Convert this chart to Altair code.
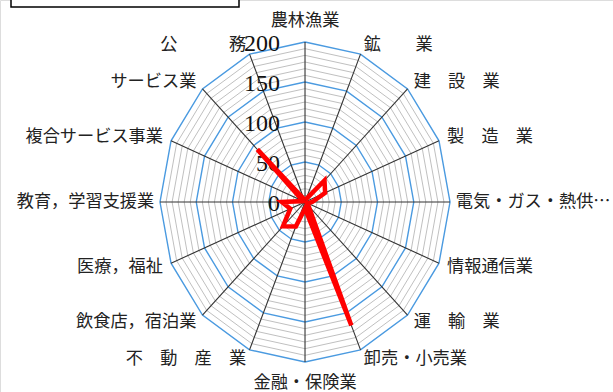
import numpy as np
import pandas as pd
import altair as alt

categories = ["農林漁業", "鉱業", "建設業", "製造業", "電気・ガス・熱供給・水道業",
              "情報通信業", "運輸業", "卸売・小売業", "金融・保険業", "不動産業",
              "飲食店，宿泊業", "医療，福祉", "教育，学習支援業", "複合サービス事業",
              "サービス業", "公務"]
label_texts = ["農林漁業", "鉱　　業", "建　設　業", "製　造　業", "電気・ガス・熱供…",
               "情報通信業", "運　輸　業", "卸売・小売業", "金融・保険業", "不　動　産　業",
               "飲食店，宿泊業", "医療，福祉", "教育，学習支援業", "複合サービス事業",
               "サービス業", "公　　　務"]
values = [3, 4, 38, 30, 10, 4, 7, 167, 8, 33, 43, 22, 32, 3, 93, 4]
tick_values = [0, 50, 100, 150, 200]
tick_labels = ["0", "50", "100", "150", "200"]
r_max = 200
n = len(categories)
ang = np.arange(n) * 2 * np.pi / n

# rings
minor_levels = [k * 50 / 6 for k in range(1, 25) if k % 6 != 0]
major_levels = [50, 100, 150, 200]

def ring_df(levels):
    rows = []
    for lv in levels:
        for j in range(n + 1):
            a = ang[j % n]
            rows.append({"ring": lv, "o": j, "x": lv * np.sin(a), "y": lv * np.cos(a)})
    return pd.DataFrame(rows)

minor_df = ring_df(minor_levels)
major_df = ring_df(major_levels)

spoke_df = pd.DataFrame({"x": 0.0, "y": 0.0,
                         "x2": r_max * np.sin(ang), "y2": r_max * np.cos(ang)})

data_rows = []
for j in range(n + 1):
    a = ang[j % n]
    v = values[j % n]
    data_rows.append({"o": j, "cat": categories[j % n], "v": v,
                      "x": v * np.sin(a), "y": v * np.cos(a)})
data_df = pd.DataFrame(data_rows)

tick_df = pd.DataFrame({"x": 0.0, "y": tick_values, "t": tick_labels})

lab_rows = []
for i in range(n):
    a = ang[i]
    s = np.sin(a)
    if abs(s) < 1e-6:
        rl = 226
        al = "center"
    else:
        rl = 208 if abs(s) > 0.99 else 212
        al = "left" if s > 0 else "right"
    lab_rows.append({"t": label_texts[i], "x": rl * s, "y": rl * np.cos(a), "al": al})
lab_df = pd.DataFrame(lab_rows)

xs = alt.Scale(domain=[-420.7, 424.8], nice=False, zero=False)
ys = alt.Scale(domain=[-237.5, 252.5], nice=False, zero=False)
X = alt.X("x:Q", scale=xs, axis=None)
Y = alt.Y("y:Q", scale=ys, axis=None)

minor = alt.Chart(minor_df).mark_line(color="#c0c0c0", strokeWidth=1).encode(
    x=X, y=Y, detail="ring:N", order="o:Q")
major = alt.Chart(major_df).mark_line(color="#4a9ae0", strokeWidth=1.4).encode(
    x=X, y=Y, detail="ring:N", order="o:Q")
spokes = alt.Chart(spoke_df).mark_rule(color="#333333", strokeWidth=1.1).encode(
    x=X, y=Y, x2="x2:Q", y2="y2:Q")
line = alt.Chart(data_df).mark_line(color="#ff0000", strokeWidth=4.5,
                                    strokeJoin="miter", strokeMiterLimit=20).encode(
    x=X, y=Y, order="o:Q")
ticks = alt.Chart(tick_df).mark_text(align="right", baseline="middle", dx=-25, dy=2,
                                     font="Liberation Serif", fontSize=24,
                                     color="#111111").encode(x=X, y=Y, text="t:N")

def labels(al):
    return alt.Chart(lab_df[lab_df["al"] == al]).mark_text(
        align=al, baseline="middle", font="Noto Sans CJK JP", fontSize=17.2,
        color="#222222").encode(x=X, y=Y, text="t:N")

box = alt.Chart(pd.DataFrame({"a": [0]})).mark_rect(
    fill="white", stroke="black", strokeWidth=1.5).encode(
    x=alt.value(11), x2=alt.value(239), y=alt.value(-10), y2=alt.value(7))

chart = alt.layer(minor, major, spokes, ticks, labels("left"), labels("right"),
                  labels("center"), line, box).properties(
    width=613, height=392, padding=0,
    autosize=alt.AutoSizeParams(type="none")
).configure_view(stroke=None).configure(background="white")

chart.save("out.html", embed_options={"renderer": "svg", "actions": False})
